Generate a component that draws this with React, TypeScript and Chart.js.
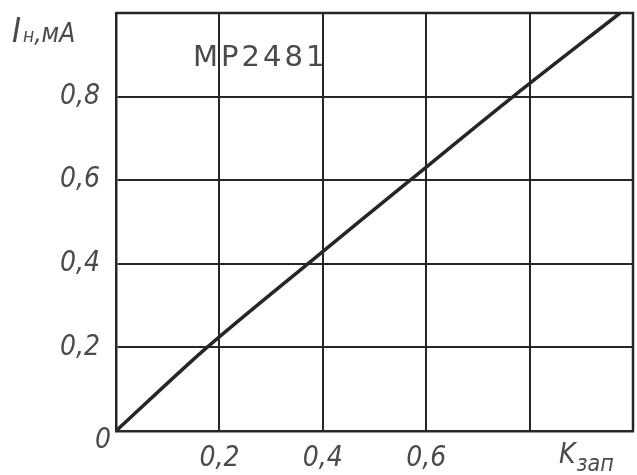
import React, { useEffect, useRef } from "react";
import { Chart, registerables } from "chart.js";

Chart.register(...registerables);

const kValues = [0, 0.176, 0.371, 0.569, 0.768, 0.975];
const iValues = [0, 0.2, 0.4, 0.6, 0.8, 1.0];
const xTickLabels: Record<string, string> = { "0.2": "0,2", "0.4": "0,4", "0.6": "0,6" };
const yTickLabels: Record<string, string> = { "0.2": "0,2", "0.4": "0,4", "0.6": "0,6", "0.8": "0,8" };
const curveLabel = "МР2481";
const yTitle = ["I", "н", ",мА"];
const xTitle = ["K", "зап"];

const INK = "#262626";
const TEXT = "#4a4a4a";
const FAMILY = "'DejaVu Sans Condensed', 'DejaVu Sans', sans-serif";
const WIDE = "'DejaVu Sans', sans-serif";

export default function App() {
  const ref = useRef<HTMLCanvasElement>(null);
  useEffect(() => {
    if (!ref.current) return;
    const labelsPlugin = {
      id: "labels",
      afterDraw(chart: any) {
        const ctx = chart.ctx;
        const xs = chart.scales.x;
        const ys = chart.scales.y;
        const a = chart.chartArea;
        ctx.save();
        // top and right frame
        ctx.strokeStyle = INK;
        ctx.lineWidth = 2.5;
        ctx.beginPath();
        ctx.moveTo(a.left, a.top);
        ctx.lineTo(a.right, a.top);
        ctx.lineTo(a.right, a.bottom);
        ctx.stroke();
        ctx.fillStyle = TEXT;
        // origin "0"
        ctx.font = `italic 28px ${FAMILY}`;
        ctx.textAlign = "center";
        ctx.textBaseline = "middle";
        ctx.fillText("0", a.left - 13, ys.getPixelForValue(0) + 10);
        // curve label
        ctx.font = `29px ${WIDE}`;
        (ctx as any).letterSpacing = "3px";
        ctx.fillText(curveLabel, xs.getPixelForValue(0.279), ys.getPixelForValue(0.892));
        (ctx as any).letterSpacing = "0px";
        // y title
        ctx.textAlign = "left";
        ctx.textBaseline = "alphabetic";
        let x = 12;
        const yb = ys.getPixelForValue(0.93);
        ctx.font = `italic 34px ${FAMILY}`;
        ctx.fillText(yTitle[0], x, yb);
        x += ctx.measureText(yTitle[0]).width + 2;
        ctx.font = `italic 19px ${FAMILY}`;
        ctx.fillText(yTitle[1], x, yb);
        x += ctx.measureText(yTitle[1]).width;
        ctx.font = `italic 26px ${FAMILY}`;
        ctx.fillText(yTitle[2], x, yb);
        // x title
        let kx = xs.getPixelForValue(0.857);
        const kb = a.bottom + 32;
        ctx.font = `italic 28px ${FAMILY}`;
        ctx.fillText(xTitle[0], kx, kb);
        kx += ctx.measureText(xTitle[0]).width + 1;
        ctx.font = `italic 23px ${FAMILY}`;
        ctx.fillText(xTitle[1], kx, kb + 8);
        ctx.restore();
      },
    };
    const chart = new Chart(ref.current, {
      type: "scatter",
      data: {
        datasets: [
          {
            data: kValues.map((k, i) => ({ x: k, y: iValues[i] })),
            showLine: true,
            borderColor: INK,
            borderWidth: 3.5,
            pointRadius: 0,
            tension: 0.3,
          },
        ],
      },
      options: {
        animation: false,
        responsive: false,
        events: [],
        layout: { padding: { left: 0, right: 4, top: 13, bottom: 0 } },
        plugins: { legend: { display: false }, tooltip: { enabled: false } },
        scales: {
          x: {
            type: "linear",
            min: 0,
            max: 1.0,
            afterFit: (s: any) => { s.height = 44; s.paddingLeft = 0; s.paddingRight = 0; },
            afterBuildTicks: (s: any) => {
              s.ticks = [0, 0.2, 0.4, 0.6, 0.8].map((v) => ({ value: v }));
            },
            grid: { color: INK, lineWidth: 2, drawTicks: false },
            border: { color: INK, width: 2.5 },
            ticks: {
              padding: 11,
              color: TEXT,
              font: { family: FAMILY, size: 28, style: "italic" },
              callback: (v: any) => xTickLabels[String(Math.round(Number(v) * 10) / 10)] ?? "",
            },
          },
          y: {
            type: "linear",
            min: 0,
            max: 1.0,
            afterFit: (s: any) => { s.width = 116; s.paddingTop = 0; s.paddingBottom = 0; },
            afterBuildTicks: (s: any) => {
              s.ticks = [0, 0.2, 0.4, 0.6, 0.8].map((v) => ({ value: v }));
            },
            grid: { color: INK, lineWidth: 2, drawTicks: false },
            border: { color: INK, width: 2.5 },
            ticks: {
              padding: 16,
              color: TEXT,
              font: { family: FAMILY, size: 28, style: "italic" },
              callback: (v: any) => yTickLabels[String(Math.round(Number(v) * 10) / 10)] ?? "",
            },
          },
        },
      },
      plugins: [labelsPlugin],
    });
    return () => chart.destroy();
  }, []);
  return (
    <div style={{ position: "fixed", left: 0, top: 0, width: 637, height: 475, background: "#fff" }}>
      <canvas ref={ref} width={637} height={475} style={{ width: 637, height: 475 }} />
    </div>
  );
}
